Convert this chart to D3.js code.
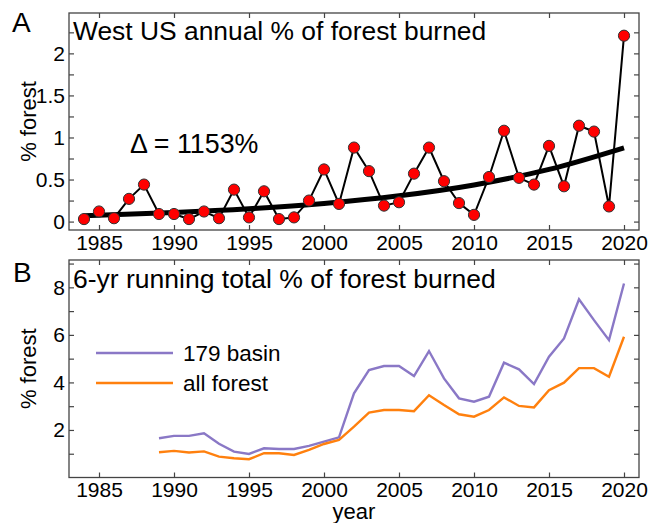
<!DOCTYPE html>
<html>
<head>
<meta charset="utf-8">
<script src="https://cdn.jsdelivr.net/npm/d3@7"></script>
<style>
  body { margin: 0; background: #fff; }
  svg text { font-family: "Liberation Sans", Arial, Helvetica, sans-serif; fill: #000; }
</style>
</head>
<body>
<div id="chart"></div>
<script>
// panel A: annual % of forest burned
const years = [1984,1985,1986,1987,1988,1989,1990,1991,1992,1993,1994,1995,1996,1997,1998,1999,
  2000,2001,2002,2003,2004,2005,2006,2007,2008,2009,2010,2011,2012,2013,2014,2015,2016,2017,2018,2019,2020];
const annualBurned = [0.03,0.12,0.04,0.27,0.44,0.09,0.09,0.03,0.12,0.04,0.38,0.05,0.36,0.03,0.05,0.25,
  0.62,0.21,0.88,0.60,0.19,0.23,0.57,0.88,0.48,0.22,0.08,0.53,1.08,0.52,0.44,0.90,0.42,1.14,1.07,0.18,2.21];
// fitted trend
const trendYears = [1984,1990,1995,2000,2005,2010,2015,2020];
const trendValues = [0.07,0.107,0.152,0.216,0.307,0.436,0.62,0.877];

// panel B: 6-yr running total
const runYears = [1989,1990,1991,1992,1993,1994,1995,1996,1997,1998,1999,2000,2001,2002,2003,2004,
  2005,2006,2007,2008,2009,2010,2011,2012,2013,2014,2015,2016,2017,2018,2019,2020];
const basin179 = [1.65,1.75,1.75,1.86,1.42,1.09,0.99,1.23,1.2,1.2,1.33,1.51,1.69,3.54,4.52,4.69,
  4.69,4.27,5.32,4.17,3.33,3.19,3.4,4.83,4.55,3.93,5.08,5.85,7.5,6.62,5.78,8.16];
const allForest = [1.06,1.12,1.05,1.1,0.88,0.81,0.77,1.02,1.02,0.95,1.16,1.41,1.58,2.14,2.73,2.84,
  2.84,2.79,3.46,3.05,2.66,2.56,2.84,3.37,3.01,2.95,3.67,3.99,4.6,4.6,4.24,5.92];

const xTicks = [1985,1990,1995,2000,2005,2010,2015,2020];
const yTicksA = [0,0.25,0.5,0.75,1,1.25,1.5,1.75,2,2.25];
const yLabelsA = [0,0.5,1,1.5,2];
const yTicksB = [1,2,3,4,5,6,7,8,9];
const yLabelsB = [2,4,6,8];

const seriesB = [
  { name: "179 basin", values: basin179, color: "#8a78c6" },
  { name: "all forest", values: allForest, color: "#ff800e" }
];

const W = 651, H = 523;
const left = 69, right = 639;
const axisColor = "#444";

const svg = d3.select("#chart").append("svg")
  .attr("width", W).attr("height", H);

const x = d3.scaleLinear().domain([1983, 2021]).range([left, right]);
const yA = d3.scaleLinear().domain([-0.1, 2.48]).range([230, 13]);
const yB = d3.scaleLinear().domain([0, 9.15]).range([477.5, 260]);

// draws box + inward ticks in matlab style
function drawFrame(y, yTicks, yLabels, fmt) {
  const [y0, y1] = y.range();
  const g = svg.append("g");

  const bottom = g.append("g").attr("transform", `translate(0,${y0})`)
    .call(d3.axisBottom(x).tickValues(xTicks).tickFormat(d3.format("d"))
      .tickSizeInner(-5).tickSizeOuter(0).tickPadding(5));
  const top = g.append("g").attr("transform", `translate(0,${y1})`)
    .call(d3.axisTop(x).tickValues(xTicks).tickFormat("").tickSizeInner(-5).tickSizeOuter(0));
  const lft = g.append("g").attr("transform", `translate(${left},0)`)
    .call(d3.axisLeft(y).tickValues(yTicks)
      .tickFormat(d => yLabels.includes(d) ? fmt(d) : "")
      .tickSizeInner(-5).tickSizeOuter(0).tickPadding(4));
  const rgt = g.append("g").attr("transform", `translate(${right},0)`)
    .call(d3.axisRight(y).tickValues(yTicks).tickFormat("").tickSizeInner(-5).tickSizeOuter(0));

  [bottom, top, lft, rgt].forEach(a => {
    a.select(".domain").remove();
    a.selectAll("line").attr("stroke", axisColor).attr("stroke-width", 1.2);
    a.selectAll("text").attr("font-size", 21)
      .attr("font-family", "'Liberation Sans', Arial, sans-serif").attr("fill", "#000");
  });

  g.append("rect")
    .attr("x", left).attr("y", y1)
    .attr("width", right - left).attr("height", y0 - y1)
    .attr("fill", "none").attr("stroke", axisColor).attr("stroke-width", 1.3);
}

// ---- panel A
drawFrame(yA, yTicksA, yLabelsA, d3.format("~g"));

svg.append("path")
  .datum(trendYears.map((t, i) => [t, trendValues[i]]))
  .attr("fill", "none").attr("stroke", "#000").attr("stroke-width", 5)
  .attr("d", d3.line().x(d => x(d[0])).y(d => yA(d[1])).curve(d3.curveMonotoneX));

svg.append("path")
  .datum(annualBurned)
  .attr("fill", "none").attr("stroke", "#000").attr("stroke-width", 2)
  .attr("d", d3.line().x((d, i) => x(years[i])).y(d => yA(d)));

svg.selectAll(".dot")
  .data(annualBurned)
  .enter().append("circle")
  .attr("class", "dot")
  .attr("cx", (d, i) => x(years[i]))
  .attr("cy", d => yA(d))
  .attr("r", 5.6)
  .attr("fill", "#ff0000").attr("stroke", "#333").attr("stroke-width", 1);

svg.append("text").attr("x", 73).attr("y", 40).attr("font-size", 26.4)
  .text("West US annual % of forest burned");
svg.append("text").attr("x", 130).attr("y", 153).attr("font-size", 26.8)
  .text("\u0394 = 1153%");
svg.append("text").attr("x", 12).attr("y", 32).attr("font-size", 28).text("A");
svg.append("text")
  .attr("transform", `translate(36,${(230 + 13) / 2}) rotate(-90)`)
  .attr("text-anchor", "middle").attr("font-size", 22).text("% forest");

// ---- panel B
drawFrame(yB, yTicksB, yLabelsB, d3.format("d"));

const lineB = d3.line().x((d, i) => x(runYears[i])).y(d => yB(d));
svg.selectAll(".run")
  .data(seriesB)
  .enter().append("path")
  .attr("class", "run")
  .attr("fill", "none")
  .attr("stroke", d => d.color).attr("stroke-width", 2.4)
  .attr("d", d => lineB(d.values));

const legend = svg.selectAll(".leg")
  .data(seriesB)
  .enter().append("g")
  .attr("class", "leg")
  .attr("transform", (d, i) => `translate(96,${353 + i * 30})`);
legend.append("line").attr("x1", 0).attr("x2", 77)
  .attr("stroke", d => d.color).attr("stroke-width", 2.4);
legend.append("text").attr("x", 87).attr("y", 8).attr("font-size", 22.5).text(d => d.name);

svg.append("text").attr("x", 73).attr("y", 288).attr("font-size", 26.5)
  .text("6-yr running total % of forest burned");
svg.append("text").attr("x", 13).attr("y", 282).attr("font-size", 28).text("B");
svg.append("text")
  .attr("transform", `translate(36,${(477.5 + 260) / 2}) rotate(-90)`)
  .attr("text-anchor", "middle").attr("font-size", 22).text("% forest");
svg.append("text").attr("x", (left + right) / 2).attr("y", 519)
  .attr("text-anchor", "middle").attr("font-size", 22).text("year");
</script>
</body>
</html>
